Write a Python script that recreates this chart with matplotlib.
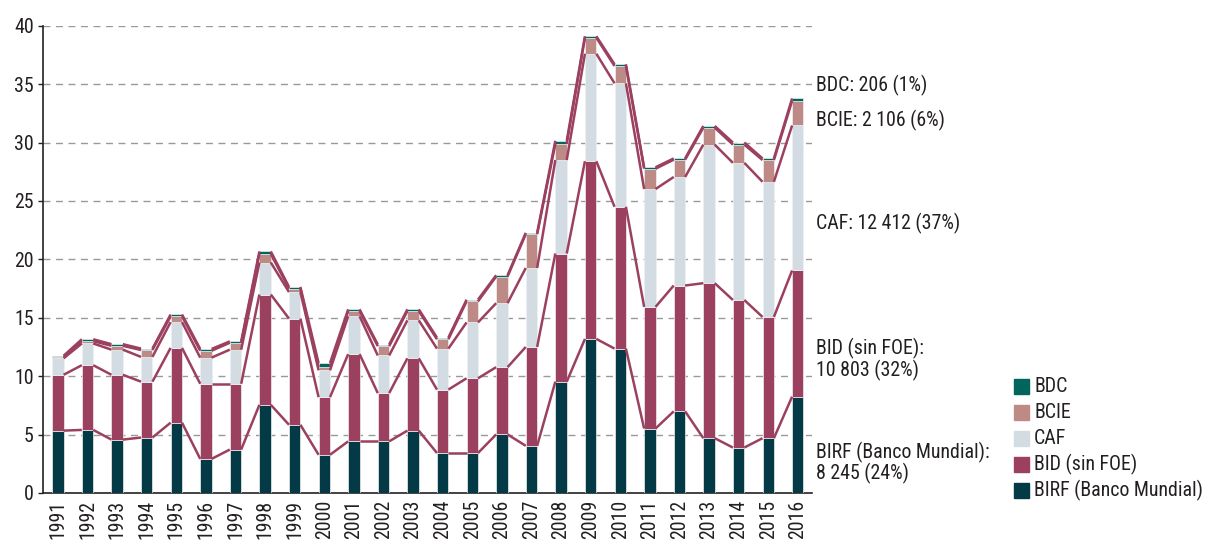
import matplotlib
matplotlib.use("Agg")
import matplotlib.pyplot as plt
from matplotlib import font_manager
from matplotlib.patches import Rectangle
from matplotlib.transforms import blended_transform_factory
import numpy as np

# ---------------- data ----------------
years = [str(y) for y in range(1991, 2017)]
birf = [5.34, 5.40, 4.57, 4.75, 6.02, 2.92, 3.72, 7.55, 5.84, 3.27, 4.42, 4.42, 5.34,
        3.42, 3.42, 5.01, 4.04, 9.53, 13.19, 12.36, 5.52, 6.99, 4.69, 3.89, 4.69, 8.245]
bid = [4.78, 5.54, 5.55, 4.78, 6.40, 6.43, 5.63, 9.44, 9.09, 4.93, 7.47, 4.13, 6.19,
       5.43, 6.40, 5.76, 8.46, 10.97, 15.21, 12.14, 10.41, 10.77, 13.27, 12.63, 10.38, 10.803]
caf = [1.41, 1.86, 2.15, 2.12, 2.21, 2.24, 2.92, 2.74, 2.27, 2.30, 3.24, 3.22, 3.25,
       3.51, 4.78, 5.48, 6.76, 8.00, 9.20, 10.57, 10.09, 9.29, 11.86, 11.74, 11.57, 12.412]
bcie = [0.12, 0.20, 0.33, 0.59, 0.50, 0.59, 0.59, 0.74, 0.29, 0.27, 0.45, 0.80, 0.80,
        0.80, 1.80, 2.28, 2.89, 1.38, 1.37, 1.48, 1.74, 1.48, 1.45, 1.56, 1.86, 2.106]
bdc = [0.10, 0.16, 0.14, 0.12, 0.15, 0.15, 0.12, 0.21, 0.15, 0.35, 0.14, 0.14, 0.14,
       0.14, 0.15, 0.11, 0.12, 0.27, 0.13, 0.15, 0.12, 0.11, 0.15, 0.18, 0.14, 0.206]
series_names = ["BIRF (Banco Mundial)", "BID (sin FOE)", "CAF", "BCIE", "BDC"]
annotations = ["BDC: 206 (1%)", "BCIE: 2 106 (6%)", "CAF: 12 412 (37%)",
               "BID (sin FOE):\n10 803 (32%)", "BIRF (Banco Mundial):\n8 245 (24%)"]
annot_y = [34.9, 31.85, 23.1, 11.4, 2.57]
yticks = [0, 5, 10, 15, 20, 25, 30, 35, 40]

# ---------------- fonts ----------------
names = {f.name for f in font_manager.fontManager.ttflist}
family = None
for cand in ["Roboto Condensed", "Open Sans Condensed", "Liberation Sans Narrow",
             "DejaVu Sans Condensed", "Noto Sans Condensed"]:
    if cand in names:
        family = cand
        break
stretch = "normal"
fs = 14.3
if family is None:
    dj = [f for f in font_manager.fontManager.ttflist
          if f.name == "DejaVu Sans" and str(f.stretch) in ("condensed", "semi-condensed", "600", "500")]
    if dj:
        family = "DejaVu Sans"
        stretch = "condensed"
    else:
        family = "Roboto"
        fs = 12.5
plt.rcParams["font.family"] = [family, "DejaVu Sans"]
plt.rcParams["font.stretch"] = stretch

colors = ["#033a45", "#9c405f", "#d3dce3", "#bd8a86", "#00655c"]
line_color = "#9c405f"
text_color = "#231f20"

fig = plt.figure(figsize=(12.05, 5.4), dpi=100)
W, H = 1205.0, 540.0
ax = fig.add_axes([42.7 / W, 1 - 493 / H, (812.3 - 42.7) / W, (493 - 25.7) / H])

x = np.arange(len(years))
width = 0.385
data = [birf, bid, caf, bcie, bdc]
bottom = np.zeros(len(years))
tops = []
for vals, col, name in zip(data, colors, series_names):
    vals = np.array(vals)
    ax.bar(x, vals, width, bottom=bottom, color=col, edgecolor="#eef0f2",
           linewidth=0.5, zorder=3, label=name)
    bottom = bottom + vals
    tops.append(bottom.copy())

# connecting lines between bars
for top in tops:
    for i in range(len(years) - 1):
        ax.plot([x[i] + width / 2, x[i + 1] - width / 2], [top[i], top[i + 1]],
                color=line_color, lw=1.8, zorder=4, solid_capstyle="butt")

ax.set_xlim(-0.515, 25.49)
ax.set_ylim(0, 40)
ax.set_yticks(yticks)
ax.set_yticklabels([str(v) for v in yticks], fontsize=fs, color=text_color)
ax.set_xticks(x)
ax.set_xticklabels(years, rotation=90, fontsize=fs, color=text_color)
ax.tick_params(axis="x", length=0, pad=5)
ax.tick_params(axis="y", length=3.5, width=1, pad=3, direction="out", color="#222222")
for yv in yticks[1:]:
    ax.axhline(yv, color="#999999", lw=1, ls=(0, (5, 4)), zorder=1)
for s in ["top", "right"]:
    ax.spines[s].set_visible(False)
for s in ["left", "bottom"]:
    ax.spines[s].set_color("#222222")
    ax.spines[s].set_linewidth(1.2)

# right-side annotations
trans = blended_transform_factory(fig.transFigure, ax.transData)
for txt, yv in zip(annotations, annot_y):
    ax.text(815.7 / W, yv, txt, transform=trans, ha="left", va="center",
            fontsize=fs, color=text_color, linespacing=1.05)

# legend (manual)
leg_order = [4, 3, 2, 1, 0]
for k, idx in enumerate(leg_order):
    yc = 386 + 26 * k
    fig.patches.append(Rectangle((1014 / W, 1 - (yc + 7.5) / H), 15 / W, 15 / H,
                                 transform=fig.transFigure, color=colors[idx]))
    fig.text(1034 / W, 1 - yc / H, series_names[idx], ha="left", va="center",
             fontsize=fs, color=text_color)

fig.savefig("out.png", dpi=100)
